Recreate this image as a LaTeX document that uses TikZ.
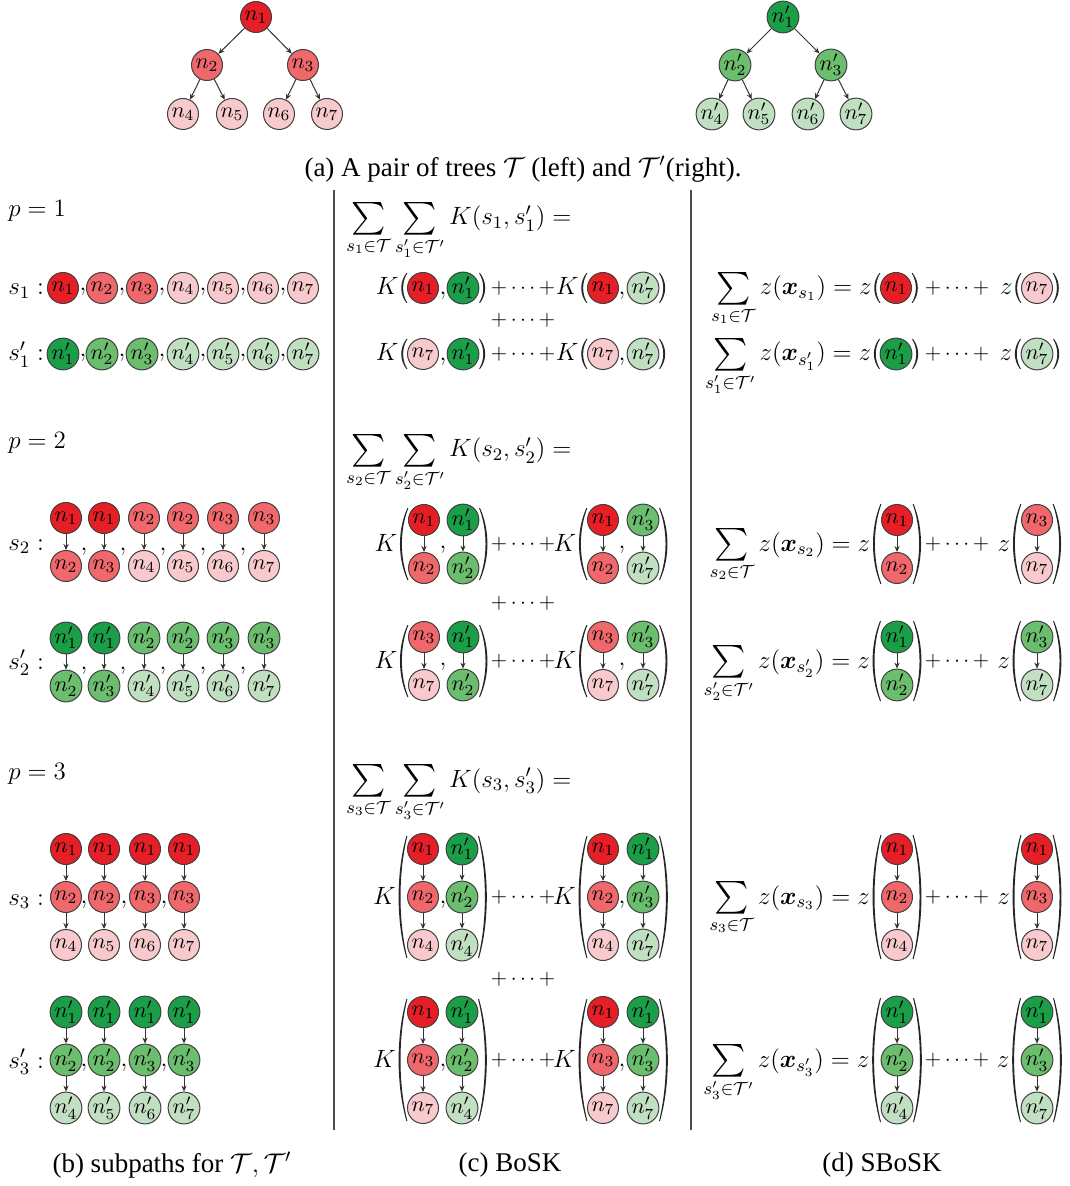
\RequirePackage{fix-cm}
\documentclass[tikz,border=0pt]{standalone}
\usepackage{amsmath}
\usepackage{graphicx}
\usepackage{bm}
\usepackage{fontspec}
\setmainfont{Liberation Serif}
\usetikzlibrary{arrows.meta,calc}
\definecolor{rA}{RGB}{230,30,38}
\definecolor{rB}{RGB}{240,104,108}
\definecolor{rC}{RGB}{249,202,205}
\definecolor{gA}{RGB}{26,158,72}
\definecolor{gB}{RGB}{107,190,109}
\definecolor{gC}{RGB}{193,223,193}
\tikzset{
 nd/.style={circle,draw=black!75,line width=0.5pt,minimum size=15.5pt,inner sep=0pt,font=\fontsize{11}{13}\selectfont},
 arr/.style={draw=black!80,line width=0.5pt,-{Stealth[length=3pt,width=2.6pt]}},
 mt/.style={inner sep=0pt,font=\fontsize{12.5}{15}\selectfont},
 plt/.style={inner sep=0pt,font=\fontsize{10.5}{12}\selectfont},
 captxt/.style={inner sep=0pt,font=\fontsize{13.5}{16}\selectfont},
 sepline/.style={draw=black!70,line width=0.8pt},
 pfill/.style={fill=black!85},
}
\newcommand\bsum{\mathop{\vcenter{\hbox{\scalebox{1.36}{$\sum$}}}}\limits}
\newcommand\mkone[5]{\node[nd,fill=#4] (#1) at (#2,#3) {$#5$};\coordinate (#1W) at (#1.west);\coordinate (#1E) at (#1.east);}
\newcommand\mkcol[7]{\node[nd,fill=#4] (#1a) at (#2,#3) {$#5$};\node[nd,fill=#6] (#1b) at (#2,#3+48) {$#7$};\draw[arr] (#1a) -- (#1b);\coordinate (#1W) at ($(#1a.west)!.5!(#1b.west)$);\coordinate (#1E) at ($(#1a.east)!.5!(#1b.east)$);}
\newcommand\mkcolc[9]{\node[nd,fill=#4] (#1a) at (#2,#3-48) {$#5$};\node[nd,fill=#6] (#1b) at (#2,#3) {$#7$};\node[nd,fill=#8] (#1c) at (#2,#3+48) {$#9$};\draw[arr] (#1a) -- (#1b);\draw[arr] (#1b) -- (#1c);\coordinate (#1W) at (#1b.west);\coordinate (#1E) at (#1b.east);}
% parentheses drawn as thin crescents: name, west coord, east coord, half height, bulge
\newcommand\wrap[5]{%
 \fill[pfill] ($(#2)+(-0.6,-#4)$) .. controls ($(#2)+(-#5,-#4*0.4)$) and ($(#2)+(-#5,#4*0.4)$) .. ($(#2)+(-0.6,#4)$) -- ($(#2)+(0.4,#4)$) .. controls ($(#2)+(-#5+2.2,#4*0.4)$) and ($(#2)+(-#5+2.2,-#4*0.4)$) .. ($(#2)+(0.4,-#4)$) -- cycle;
 \fill[pfill] ($(#3)+(0.6,-#4)$) .. controls ($(#3)+(#5,-#4*0.4)$) and ($(#3)+(#5,#4*0.4)$) .. ($(#3)+(0.6,#4)$) -- ($(#3)+(-0.4,#4)$) .. controls ($(#3)+(#5-2.2,#4*0.4)$) and ($(#3)+(#5-2.2,-#4*0.4)$) .. ($(#3)+(-0.4,-#4)$) -- cycle;
 \coordinate (#1l) at ($(#2)+(-0.8*#5,0)$);\coordinate (#1r) at ($(#3)+(0.8*#5,0)$);}
\newcommand\pre[3]{\node[mt,anchor=base east] (#1) at ($(#2)+(-2,7)$) {$#3$};}
\newcommand\cm[3]{\node[mt,anchor=base] (#1) at (#2,#3) {$,$};}
\newcommand\pl[3]{\node[plt] (#1) at (#2,#3) {${+}\cdots{+}$};}
\begin{document}
\begin{tikzpicture}[x=0.5pt,y=-0.5pt]
\useasboundingbox (0,0) rectangle (1069,1186);
% ---------- (a) trees
\node[nd,fill=rA] (t1) at (256,17) {$n_1$};
\node[nd,fill=rB] (t2) at (207,65) {$n_2$};
\node[nd,fill=rB] (t3) at (303,65) {$n_3$};
\node[nd,fill=rC] (t4) at (183,114) {$n_4$};
\node[nd,fill=rC] (t5) at (232,114) {$n_5$};
\node[nd,fill=rC] (t6) at (279,114) {$n_6$};
\node[nd,fill=rC] (t7) at (327,114) {$n_7$};
\draw[arr] (t1)--(t2); \draw[arr] (t1)--(t3);
\draw[arr] (t2)--(t4); \draw[arr] (t2)--(t5);
\draw[arr] (t3)--(t6); \draw[arr] (t3)--(t7);
\node[nd,fill=gA] (u1) at (783,17) {$n_1'$};
\node[nd,fill=gB] (u2) at (735,65) {$n_2'$};
\node[nd,fill=gB] (u3) at (831,65) {$n_3'$};
\node[nd,fill=gC] (u4) at (712,114) {$n_4'$};
\node[nd,fill=gC] (u5) at (759,114) {$n_5'$};
\node[nd,fill=gC] (u6) at (808,114) {$n_6'$};
\node[nd,fill=gC] (u7) at (856,114) {$n_7'$};
\draw[arr] (u1)--(u2); \draw[arr] (u1)--(u3);
\draw[arr] (u2)--(u4); \draw[arr] (u2)--(u5);
\draw[arr] (u3)--(u6); \draw[arr] (u3)--(u7);
\node[captxt] (capa) at (523,169) {(a) A pair of trees $\mathcal{T}$ (left) and $\mathcal{T}'$(right).};
% separators
\draw[sepline] (334,190) -- (334,1130);
\draw[sepline] (691,190) -- (691,1130);
% ---------- (b)
\node[mt,anchor=base west] (p1) at (8,217) {$p=1$};
\node[mt,anchor=base west] (p2) at (8,449) {$p=2$};
\node[mt,anchor=base west] (p3) at (8,779) {$p=3$};
\node[mt,anchor=base west] (s1l) at (8,295) {$s_1:$};
\node[mt,anchor=base west] (s1pl) at (8,361) {$s_1':$};
\node[mt,anchor=base west] (s2l) at (8,550) {$s_2:$};
\node[mt,anchor=base west] (s2pl) at (8,669) {$s_2':$};
\node[mt,anchor=base west] (s3l) at (8,905) {$s_3:$};
\node[mt,anchor=base west] (s3pl) at (8,1068) {$s_3':$};
\foreach \i/\x/\c in {1/63/rA,2/102/rB,3/142/rB,4/183/rC,5/223/rC,6/263/rC,7/303/rC}{
  \node[nd,fill=\c] (b1r\i) at (\x,288) {$n_\i$};}
\foreach \i/\x/\c in {1/63/gA,2/102/gB,3/142/gB,4/183/gC,5/223/gC,6/263/gC,7/303/gC}{
  \node[nd,fill=\c] (b1g\i) at (\x,354) {$n_\i'$};}
\foreach \x in {83,122,162,203,243,283}{\cm{b1rc\x}{\x}{291}\cm{b1gc\x}{\x}{357}}
\mkcol{b2a}{66}{518}{rA}{n_1}{rB}{n_2}
\mkcol{b2b}{104}{518}{rA}{n_1}{rB}{n_3}
\mkcol{b2c}{144}{518}{rB}{n_2}{rC}{n_4}
\mkcol{b2d}{183}{518}{rB}{n_2}{rC}{n_5}
\mkcol{b2e}{223}{518}{rB}{n_3}{rC}{n_6}
\mkcol{b2f}{264}{518}{rB}{n_3}{rC}{n_7}
\mkcol{b2g}{66}{638}{gA}{n_1'}{gB}{n_2'}
\mkcol{b2h}{104}{638}{gA}{n_1'}{gB}{n_3'}
\mkcol{b2i}{144}{638}{gB}{n_2'}{gC}{n_4'}
\mkcol{b2j}{183}{638}{gB}{n_2'}{gC}{n_5'}
\mkcol{b2k}{223}{638}{gB}{n_3'}{gC}{n_6'}
\mkcol{b2l}{264}{638}{gB}{n_3'}{gC}{n_7'}
\foreach \x in {84,123,163,203,243}{\cm{b2rc\x}{\x}{550}\cm{b2gc\x}{\x}{669}}
\mkcolc{b3a}{66}{897}{rA}{n_1}{rB}{n_2}{rC}{n_4}
\mkcolc{b3b}{104}{897}{rA}{n_1}{rB}{n_2}{rC}{n_5}
\mkcolc{b3c}{145}{897}{rA}{n_1}{rB}{n_3}{rC}{n_6}
\mkcolc{b3d}{184}{897}{rA}{n_1}{rB}{n_3}{rC}{n_7}
\mkcolc{b3e}{66}{1060}{gA}{n_1'}{gB}{n_2'}{gC}{n_4'}
\mkcolc{b3f}{104}{1060}{gA}{n_1'}{gB}{n_2'}{gC}{n_5'}
\mkcolc{b3g}{145}{1060}{gA}{n_1'}{gB}{n_3'}{gC}{n_6'}
\mkcolc{b3h}{184}{1060}{gA}{n_1'}{gB}{n_3'}{gC}{n_7'}
\foreach \x in {84,124,164}{\cm{b3rc\x}{\x}{903}\cm{b3gc\x}{\x}{1066}}
\node[captxt] (capb) at (172,1165) {(b) subpaths for $\mathcal{T},\mathcal{T}'$};
% ---------- (c)
\node[mt,anchor=base west] (sumc1) at (346,225) {$\bsum_{s_1\in\mathcal{T}}\bsum_{s_1'\in\mathcal{T}'}K(s_1,s_1') =$};
\node[mt,anchor=base west] (sumc2) at (346,457) {$\bsum_{s_2\in\mathcal{T}}\bsum_{s_2'\in\mathcal{T}'}K(s_2,s_2') =$};
\node[mt,anchor=base west] (sumc3) at (346,787) {$\bsum_{s_3\in\mathcal{T}}\bsum_{s_3'\in\mathcal{T}'}K(s_3,s_3') =$};
% p=1
\mkone{ca1}{423}{288}{rA}{n_1}\mkone{ca2}{463}{288}{gA}{n_1'}
\cm{ca12}{443}{295}\wrap{wa1}{ca1W}{ca2E}{15}{7.5}\pre{ka1}{wa1l}{K}
\pl{pa1}{523}{288}
\mkone{ca3}{603}{288}{rA}{n_1}\mkone{ca4}{643}{288}{gC}{n_7'}
\cm{ca34}{622}{295}\wrap{wa2}{ca3W}{ca4E}{15}{7.5}\pre{ka2}{wa2l}{K}
\pl{pam}{523}{320}
\mkone{ca5}{423}{354}{rC}{n_7}\mkone{ca6}{463}{354}{gA}{n_1'}
\cm{ca56}{443}{361}\wrap{wa3}{ca5W}{ca6E}{15}{7.5}\pre{ka3}{wa3l}{K}
\pl{pa2}{523}{354}
\mkone{ca7}{603}{354}{rC}{n_7}\mkone{ca8}{643}{354}{gC}{n_7'}
\cm{ca78}{622}{361}\wrap{wa4}{ca7W}{ca8E}{15}{7.5}\pre{ka4}{wa4l}{K}
% p=2
\mkcol{cb1}{424}{520}{rA}{n_1}{rB}{n_2}\mkcol{cb2}{463}{520}{gA}{n_1'}{gB}{n_2'}
\cm{cb12}{443}{548}\wrap{wb1}{cb1W}{cb2E}{36}{10.5}\pre{kb1}{wb1l}{K}
\pl{pb1}{523}{544}
\mkcol{cb3}{603}{520}{rA}{n_1}{rB}{n_2}\mkcol{cb4}{643}{520}{gB}{n_3'}{gC}{n_7'}
\cm{cb34}{622}{548}\wrap{wb2}{cb3W}{cb4E}{36}{10.5}\pre{kb2}{wb2l}{K}
\pl{pbm}{523}{603}
\mkcol{cb5}{424}{637}{rB}{n_3}{rC}{n_7}\mkcol{cb6}{463}{637}{gA}{n_1'}{gB}{n_2'}
\cm{cb56}{443}{665}\wrap{wb3}{cb5W}{cb6E}{36}{10.5}\pre{kb3}{wb3l}{K}
\pl{pb2}{523}{661}
\mkcol{cb7}{603}{637}{rB}{n_3}{rC}{n_7}\mkcol{cb8}{643}{637}{gB}{n_3'}{gC}{n_7'}
\cm{cb78}{622}{665}\wrap{wb4}{cb7W}{cb8E}{36}{10.5}\pre{kb4}{wb4l}{K}
% p=3
\mkcolc{cc1}{423}{897}{rA}{n_1}{rB}{n_2}{rC}{n_4}\mkcolc{cc2}{462}{897}{gA}{n_1'}{gB}{n_2'}{gC}{n_4'}
\cm{cc12}{443}{903}\wrap{wc1}{cc1W}{cc2E}{61}{11}\pre{kc1}{wc1l}{K}
\pl{pc1}{523}{897}
\mkcolc{cc3}{603}{897}{rA}{n_1}{rB}{n_2}{rC}{n_4}\mkcolc{cc4}{643}{897}{gA}{n_1'}{gB}{n_3'}{gC}{n_7'}
\cm{cc34}{622}{903}\wrap{wc2}{cc3W}{cc4E}{61}{11}\pre{kc2}{wc2l}{K}
\pl{pcm}{523}{979}
\mkcolc{cc5}{423}{1060}{rA}{n_1}{rB}{n_3}{rC}{n_7}\mkcolc{cc6}{462}{1060}{gA}{n_1'}{gB}{n_2'}{gC}{n_4'}
\cm{cc56}{443}{1066}\wrap{wc3}{cc5W}{cc6E}{61}{11}\pre{kc3}{wc3l}{K}
\pl{pc2}{523}{1060}
\mkcolc{cc7}{603}{1060}{rA}{n_1}{rB}{n_3}{rC}{n_7}\mkcolc{cc8}{643}{1060}{gA}{n_1'}{gB}{n_3'}{gC}{n_7'}
\cm{cc78}{622}{1066}\wrap{wc4}{cc7W}{cc8E}{61}{11}\pre{kc4}{wc4l}{K}
\node[captxt] (capc) at (510,1165) {(c) BoSK};
% ---------- (d)
\mkone{da1}{896}{288}{rA}{n_1}\wrap{wd1}{da1W}{da1E}{15}{7.5}
\pre{zd1}{wd1l}{\bsum_{s_1\in\mathcal{T}} z(\bm{x}_{s_1}) = z}
\pl{pd1}{957}{288}
\mkone{da2}{1037}{288}{rC}{n_7}\wrap{wd2}{da2W}{da2E}{15}{7.5}\pre{zd2}{wd2l}{z}
\mkone{da3}{896}{354}{gA}{n_1'}\wrap{wd3}{da3W}{da3E}{15}{7.5}
\pre{zd3}{wd3l}{\bsum_{s_1'\in\mathcal{T}'} z(\bm{x}_{s_1'}) = z}
\pl{pd2}{957}{354}
\mkone{da4}{1037}{354}{gC}{n_7'}\wrap{wd4}{da4W}{da4E}{15}{7.5}\pre{zd4}{wd4l}{z}
% p=2
\mkcol{db1}{897}{520}{rA}{n_1}{rB}{n_2}\wrap{we1}{db1W}{db1E}{40}{10.5}
\pre{ze1}{we1l}{\bsum_{s_2\in\mathcal{T}} z(\bm{x}_{s_2}) = z}
\pl{pe1}{957}{544}
\mkcol{db2}{1037}{520}{rB}{n_3}{rC}{n_7}\wrap{we2}{db2W}{db2E}{40}{10.5}\pre{ze2}{we2l}{z}
\mkcol{db3}{897}{637}{gA}{n_1'}{gB}{n_2'}\wrap{we3}{db3W}{db3E}{40}{10.5}
\pre{ze3}{we3l}{\bsum_{s_2'\in\mathcal{T}'} z(\bm{x}_{s_2'}) = z}
\pl{pe2}{957}{661}
\mkcol{db4}{1037}{637}{gB}{n_3'}{gC}{n_7'}\wrap{we4}{db4W}{db4E}{40}{10.5}\pre{ze4}{we4l}{z}
% p=3
\mkcolc{dc1}{897}{897}{rA}{n_1}{rB}{n_2}{rC}{n_4}\wrap{wf1}{dc1W}{dc1E}{62}{11}
\pre{zf1}{wf1l}{\bsum_{s_3\in\mathcal{T}} z(\bm{x}_{s_3}) = z}
\pl{pf1}{957}{897}
\mkcolc{dc2}{1037}{897}{rA}{n_1}{rB}{n_3}{rC}{n_7}\wrap{wf2}{dc2W}{dc2E}{62}{11}\pre{zf2}{wf2l}{z}
\mkcolc{dc3}{897}{1060}{gA}{n_1'}{gB}{n_2'}{gC}{n_4'}\wrap{wf3}{dc3W}{dc3E}{62}{11}
\pre{zf3}{wf3l}{\bsum_{s_3'\in\mathcal{T}'} z(\bm{x}_{s_3'}) = z}
\pl{pf2}{957}{1060}
\mkcolc{dc4}{1037}{1060}{gA}{n_1'}{gB}{n_3'}{gC}{n_7'}\wrap{wf4}{dc4W}{dc4E}{62}{11}\pre{zf4}{wf4l}{z}
\node[captxt] (capd) at (882,1165) {(d) SBoSK};
\end{tikzpicture}
\end{document}
